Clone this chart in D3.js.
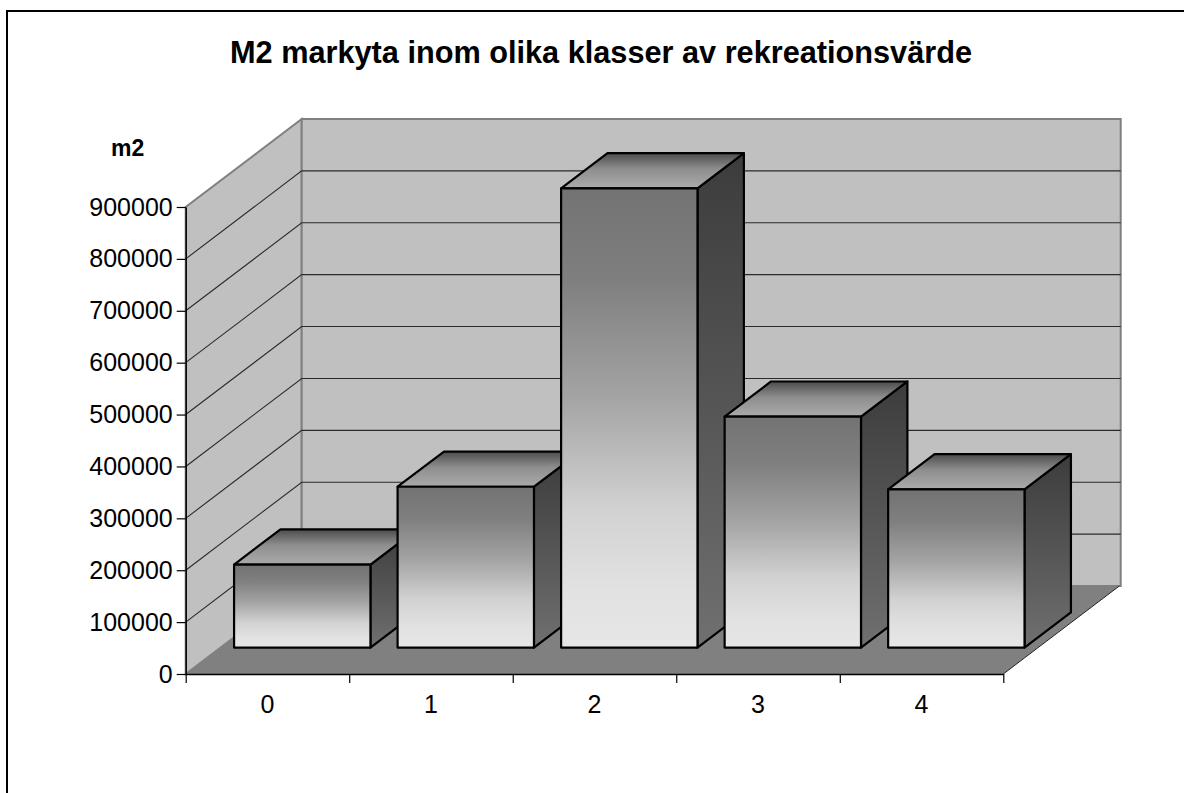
<!DOCTYPE html>
<html>
<head>
<meta charset="utf-8">
<script src="https://cdn.jsdelivr.net/npm/d3@7"></script>
<style>
  body { margin: 0; background: #fff; }
  svg { display: block; font-family: "Liberation Sans", Arial, sans-serif; }
</style>
</head>
<body>
<div id="chart"></div>
<script>
// data
var categories = ["0", "1", "2", "3", "4"];
var areas = [160000, 310000, 885000, 445000, 305000];
var yTicks = [0, 100000, 200000, 300000, 400000, 500000, 600000, 700000, 800000, 900000];
var yMax = 900000;

var svgWidth = 1184;
var svgHeight = 793;

// front plane of the floor / axis
var plotLeft = 185.7, plotRight = 1003.3;
var plotBottom = 674, plotTop = 207;
// depth offset of the back wall
var depthX = 116, depthY = 88;
// bars sit between these depth fractions
var barFront = 0.3, barBack = 0.7;

var svg = d3.select("#chart")
  .append("svg")
  .attr("width", svgWidth)
  .attr("height", svgHeight);

var defs = svg.append("defs");

function vGradient(id, stops) {
  var g = defs.append("linearGradient")
    .attr("id", id)
    .attr("x1", 0).attr("y1", 0)
    .attr("x2", 0).attr("y2", 1);
  stops.forEach(function(s) {
    g.append("stop").attr("offset", s[0]).attr("stop-color", s[1]);
  });
}
vGradient("frontGrad", [[0, "#737373"], [0.2, "#7f7f7f"], [0.45, "#a3a3a3"], [0.7, "#d2d2d2"], [0.88, "#e2e2e2"], [1, "#e6e6e6"]]);
vGradient("topGrad", [[0, "#4c4c4c"], [0.45, "#8e8e8e"], [1, "#ababab"]]);
vGradient("sideGrad", [[0, "#3c3c3c"], [0.5, "#555555"], [1, "#707070"]]);

// outer chart border (right and bottom edges fall outside the picture)
svg.append("rect")
  .attr("x", 7).attr("y", 11)
  .attr("width", 1200).attr("height", 800)
  .attr("fill", "none")
  .attr("stroke", "#000")
  .attr("stroke-width", 2);

var xBand = d3.scaleBand()
  .domain(categories)
  .range([plotLeft, plotRight])
  .paddingInner(0.166)
  .paddingOuter(0.083);

var xEdge = d3.scaleLinear()
  .domain([0, categories.length])
  .range([plotLeft, plotRight]);

var yScale = d3.scaleLinear()
  .domain([0, yMax])
  .range([plotBottom, plotTop]);

// project a point of the front plane back by a depth fraction
function proj(x, y, d) {
  return [x + d * depthX, y - d * depthY];
}

function poly(points) {
  return points.map(function(p) { return p.join(","); }).join(" ");
}

var wallRight = plotRight + 1.4;

// walls
svg.append("polygon")
  .attr("points", poly([proj(plotLeft, plotBottom, 0), proj(plotLeft, plotTop, 0), proj(plotLeft, plotTop, 1), proj(plotLeft, plotBottom, 1)]))
  .attr("fill", "#c0c0c0")
  .attr("stroke", "#808080")
  .attr("stroke-width", 2);

svg.append("polygon")
  .attr("points", poly([proj(plotLeft, plotTop, 1), proj(wallRight, plotTop, 1), proj(wallRight, plotBottom, 1), proj(plotLeft, plotBottom, 1)]))
  .attr("fill", "#c0c0c0")
  .attr("stroke", "#808080")
  .attr("stroke-width", 2);

// gridlines on both walls
var grid = svg.append("g")
  .attr("stroke", "#2a2a2a")
  .attr("stroke-width", 1.1)
  .attr("fill", "none");

yTicks.filter(function(t) { return t > 0 && t < yMax; }).forEach(function(t) {
  var a = proj(plotLeft, yScale(t), 0);
  var b = proj(plotLeft, yScale(t), 1);
  var c = proj(wallRight, yScale(t), 1);
  grid.append("polyline").attr("points", poly([a, b, c]));
});

// floor
svg.append("polygon")
  .attr("points", poly([proj(plotLeft, plotBottom, 0), proj(plotRight, plotBottom, 0), proj(plotRight, plotBottom, 1), proj(plotLeft, plotBottom, 1)]))
  .attr("fill", "#808080")
  .attr("stroke", "none");

svg.append("line")
  .attr("x1", proj(plotRight, plotBottom, 0)[0]).attr("y1", proj(plotRight, plotBottom, 0)[1])
  .attr("x2", proj(plotRight, plotBottom, 1)[0]).attr("y2", proj(plotRight, plotBottom, 1)[1])
  .attr("stroke", "#222")
  .attr("stroke-width", 1);

// bars
var bars = svg.append("g")
  .attr("stroke", "#000")
  .attr("stroke-width", 2.2)
  .attr("stroke-linejoin", "round");

categories.forEach(function(c, i) {
  var x0 = xBand(c), x1 = xBand(c) + xBand.bandwidth();
  var yv = yScale(areas[i]), y0 = yScale(0);
  var g = bars.append("g");

  g.append("polygon")
    .attr("points", poly([proj(x1, yv, barFront), proj(x1, yv, barBack), proj(x1, y0, barBack), proj(x1, y0, barFront)]))
    .attr("fill", "url(#sideGrad)");

  g.append("polygon")
    .attr("points", poly([proj(x0, yv, barFront), proj(x0, yv, barBack), proj(x1, yv, barBack), proj(x1, yv, barFront)]))
    .attr("fill", "url(#topGrad)");

  var f = proj(x0, yv, barFront);
  g.append("rect")
    .attr("x", f[0]).attr("y", f[1])
    .attr("width", x1 - x0)
    .attr("height", y0 - yv)
    .attr("fill", "url(#frontGrad)");
});

// y axis
var yAxis = d3.axisLeft(yScale)
  .tickValues(yTicks)
  .tickFormat(d3.format("d"))
  .tickSize(9)
  .tickSizeOuter(0)
  .tickPadding(4);

var yAxisG = svg.append("g")
  .attr("transform", "translate(" + plotLeft + ",0)")
  .call(yAxis);
yAxisG.select(".domain").attr("stroke", "#000").attr("stroke-width", 1.5);
yAxisG.selectAll(".tick line").attr("stroke", "#000").attr("stroke-width", 1.2);
yAxisG.selectAll(".tick text")
  .attr("fill", "#000")
  .style("font-size", "25px")
  .style("font-family", "'Liberation Sans', Arial, sans-serif");

// x axis: ticks between categories, labels at centres
var xAxis = d3.axisBottom(xEdge)
  .tickValues(d3.range(0, categories.length + 1))
  .tickFormat("")
  .tickSize(9)
  .tickSizeOuter(0);

var xAxisG = svg.append("g")
  .attr("transform", "translate(0," + plotBottom + ")")
  .call(xAxis);
xAxisG.select(".domain").attr("stroke", "#000").attr("stroke-width", 1.5);
xAxisG.selectAll(".tick line").attr("stroke", "#000").attr("stroke-width", 1.2);

svg.append("g").selectAll("text")
  .data(categories)
  .enter()
  .append("text")
  .attr("x", function(d) { return xBand(d) + xBand.bandwidth() / 2; })
  .attr("y", 713)
  .attr("text-anchor", "middle")
  .style("font-size", "25px")
  .text(function(d) { return d; });

// title and unit label
svg.append("text")
  .attr("x", 601)
  .attr("y", 63)
  .attr("text-anchor", "middle")
  .style("font-size", "30.7px")
  .style("font-weight", "bold")
  .text("M2 markyta inom olika klasser av rekreationsvärde");

svg.append("text")
  .attr("x", 111)
  .attr("y", 156)
  .style("font-size", "23px")
  .style("font-weight", "bold")
  .text("m2");
</script>
</body>
</html>
